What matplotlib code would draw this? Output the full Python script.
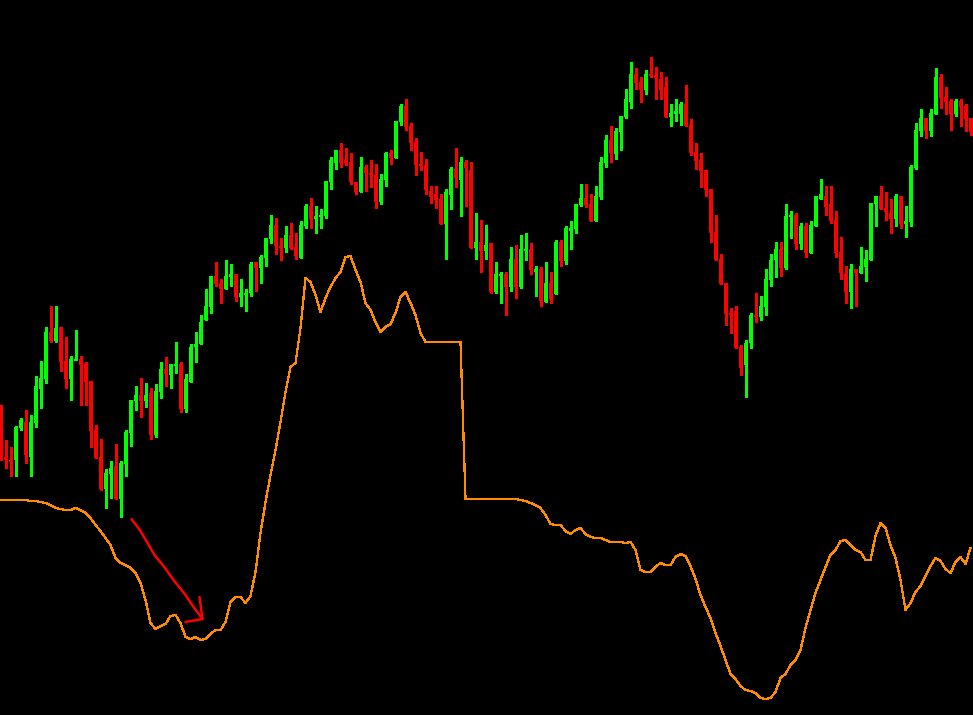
import matplotlib
matplotlib.use("Agg")
import matplotlib.pyplot as plt
import numpy as np

# price readings per bar (chart scale grows downward, like screen rows)
opens = [413, 457, 460, 460, 428, 422, 457, 423, 389, 379, 332, 341, 327, 361, 379, 360, 359, 364, 381, 430,
         457, 489, 474, 466, 499, 464, 433, 401, 395, 401, 393, 435, 392, 369, 375, 365, 364, 409, 382, 347,
         344, 320, 307, 276, 283, 289, 277, 274, 297, 294, 293, 262, 268, 258, 239, 225, 246, 248, 235, 247,
         258, 226, 206, 219, 217, 216, 182, 163, 150, 160, 162, 182, 192, 167, 173, 175, 202, 180, 153, 158,
         122, 106, 126, 142, 164, 165, 191, 194, 199, 224, 195, 169, 180, 162, 170, 248, 242, 251, 243, 292,
         275, 274, 287, 259, 287, 250, 249, 272, 269, 302, 283, 294, 242, 261, 231, 229, 205, 198, 204, 221,
         197, 163, 140, 154, 132, 117, 102, 74, 82, 90, 74, 75, 79, 87, 117, 114, 114, 104, 125, 152,
         160, 170, 189, 232, 259, 283, 313, 311, 347, 365, 343, 315, 317, 307, 280, 260, 249, 268, 217, 215,
         244, 226, 253, 226, 199, 196, 204, 220, 252, 274, 292, 269, 273, 267, 260, 204, 196, 208, 213, 219,
         196, 224, 222, 168, 131, 118, 131, 114, 77, 97, 101, 114, 101, 106, 118]
highs = [405, 440, 447, 426, 418, 410, 415, 376, 361, 327, 306, 306, 327, 337, 356, 330, 356, 362, 381, 425,
         439, 469, 461, 444, 461, 430, 400, 386, 378, 383, 388, 384, 362, 357, 364, 342, 362, 374, 344, 332,
         315, 289, 276, 262, 279, 260, 264, 274, 279, 289, 262, 262, 255, 238, 215, 218, 238, 226, 223, 233,
         221, 204, 198, 206, 209, 181, 157, 150, 143, 148, 153, 182, 157, 165, 160, 164, 174, 152, 150, 121,
         104, 99, 123, 138, 152, 159, 186, 186, 194, 189, 167, 148, 157, 160, 162, 213, 220, 225, 243, 262,
         272, 272, 247, 245, 235, 233, 243, 266, 267, 262, 272, 240, 240, 226, 221, 204, 184, 184, 194, 186,
         157, 135, 126, 128, 116, 89, 62, 68, 77, 70, 57, 67, 72, 77, 104, 99, 102, 85, 119, 143,
         153, 170, 189, 215, 254, 283, 308, 306, 345, 340, 313, 293, 296, 269, 254, 242, 242, 204, 211, 213,
         223, 223, 221, 196, 179, 186, 186, 211, 237, 266, 264, 269, 247, 250, 203, 196, 186, 192, 199, 194,
         196, 206, 165, 123, 109, 118, 109, 68, 74, 87, 99, 99, 99, 104, 118]
lows = [460, 468, 476, 476, 430, 463, 476, 427, 408, 383, 342, 342, 371, 388, 400, 360, 405, 405, 447, 458,
        490, 508, 498, 499, 517, 476, 446, 410, 417, 407, 439, 437, 398, 386, 388, 373, 412, 412, 382, 362,
        344, 320, 313, 286, 303, 289, 286, 301, 306, 311, 296, 291, 283, 266, 243, 254, 260, 252, 249, 259,
        258, 228, 228, 233, 228, 218, 189, 169, 167, 165, 184, 194, 192, 191, 187, 208, 204, 186, 164, 158,
        125, 130, 150, 175, 170, 194, 203, 208, 224, 259, 209, 187, 216, 206, 248, 259, 272, 259, 293, 293,
        303, 315, 291, 298, 288, 260, 274, 296, 306, 302, 303, 294, 266, 264, 249, 233, 206, 207, 221, 221,
        199, 167, 162, 159, 150, 118, 108, 89, 102, 94, 77, 99, 99, 117, 126, 121, 125, 126, 155, 169,
        187, 196, 242, 260, 284, 325, 333, 348, 375, 397, 348, 322, 320, 315, 286, 277, 276, 269, 238, 249,
        249, 257, 253, 226, 199, 215, 223, 257, 279, 303, 308, 306, 273, 281, 260, 226, 209, 220, 233, 226,
        228, 237, 226, 169, 136, 138, 136, 114, 108, 114, 130, 116, 126, 131, 135]
closes = [457, 460, 462, 427, 420, 455, 422, 386, 378, 332, 341, 328, 362, 379, 359, 359, 365, 382, 431, 458,
          489, 473, 468, 499, 463, 432, 400, 395, 401, 395, 435, 391, 369, 374, 364, 364, 409, 379, 347, 344,
          322, 306, 276, 284, 289, 276, 274, 297, 293, 293, 264, 268, 257, 238, 225, 246, 247, 235, 248, 256,
          225, 206, 219, 216, 215, 181, 160, 150, 163, 163, 182, 192, 167, 173, 174, 202, 179, 153, 158, 121,
          106, 127, 143, 165, 166, 190, 197, 200, 224, 192, 169, 178, 162, 168, 248, 242, 251, 245, 292, 274,
          274, 287, 259, 287, 249, 249, 270, 269, 301, 283, 299, 242, 261, 228, 228, 204, 198, 205, 221, 196,
          162, 140, 153, 131, 116, 99, 74, 83, 90, 74, 76, 78, 90, 117, 113, 111, 104, 126, 153, 161,
          171, 190, 233, 260, 284, 314, 314, 348, 368, 343, 315, 317, 306, 279, 260, 249, 268, 216, 215, 244,
          226, 253, 225, 196, 194, 207, 221, 253, 273, 292, 269, 273, 266, 259, 203, 196, 209, 212, 219, 196,
          224, 221, 167, 130, 118, 131, 113, 77, 98, 102, 114, 101, 107, 119, 132]

# oscillator line, same bars
indicator = [500, 500, 500, 500, 500, 500, 501, 501, 502, 503, 505, 508, 509, 510, 510, 508, 510, 513, 518, 525,
             531, 538, 545, 558, 563, 565, 568, 573, 583, 600, 623, 629, 626, 624, 616, 615, 623, 637, 639, 637,
             640, 639, 634, 630, 630, 622, 602, 597, 597, 603, 596, 572, 533, 502, 475, 450, 422, 392, 367, 363,
             328, 278, 282, 295, 312, 298, 287, 278, 272, 257, 256, 270, 282, 303, 310, 322, 332, 327, 324, 313,
             297, 292, 303, 315, 333, 342, 342, 342, 342, 342, 342, 342, 342, 499, 499, 499, 499, 499, 499, 499,
             499, 499, 499, 499, 500, 501, 503, 505, 508, 515, 524, 525, 525, 531, 534, 530, 528, 534, 537, 538,
             538, 540, 542, 542, 542, 543, 542, 550, 570, 572, 572, 567, 563, 565, 565, 557, 554, 556, 566, 579,
             595, 607, 618, 633, 646, 660, 674, 679, 686, 690, 691, 693, 698, 699, 698, 692, 678, 674, 665, 660,
             650, 628, 610, 593, 580, 567, 555, 550, 541, 540, 545, 550, 552, 560, 560, 536, 523, 528, 545, 558,
             580, 610, 603, 592, 586, 576, 566, 558, 561, 569, 573, 562, 557, 564, 548]

BULL = '#00ff00'
BEAR = '#ff0000'
LINE = '#ff8c00'

fig = plt.figure(figsize=(9.73, 7.15), dpi=100, facecolor='black')
ax = fig.add_axes([0, 0, 1, 1])
ax.set_facecolor('black')

n = len(opens)
xs = np.arange(n)
o = np.array(opens, dtype=float)
c = np.array(closes, dtype=float)
colors = [BULL if cc <= oo else BEAR for oo, cc in zip(o, c)]

# wicks
ax.vlines(xs, lows, highs, colors=colors, linewidth=0.8, antialiased=False)

# bodies
tops = np.minimum(o, c)
heights = np.maximum(np.abs(c - o), 1.5)
ax.bar(xs, heights, bottom=tops, width=0.62, color=colors, linewidth=0, antialiased=False)

# indicator line
ax.plot(xs, indicator, color=LINE, linewidth=0.9, antialiased=False)

# hand drawn arrow
arrow_x = np.array([131, 140, 147, 154, 163, 173, 185, 193, 202]) / 5.0
arrow_y = [519, 531, 543, 555, 566, 580, 595, 607, 619]
ax.plot(arrow_x, arrow_y, color=BEAR, linewidth=1.8, solid_capstyle='round')
head_x = np.array([199, 202, 185]) / 5.0
head_y = [597, 619, 622]
ax.plot(head_x, head_y, color=BEAR, linewidth=1.8, solid_capstyle='round', solid_joinstyle='round')

ax.set_xlim(-0.1, 194.5)
ax.set_ylim(715, 0)
ax.set_axis_off()

plt.savefig('out.png', dpi=100, facecolor='black')
